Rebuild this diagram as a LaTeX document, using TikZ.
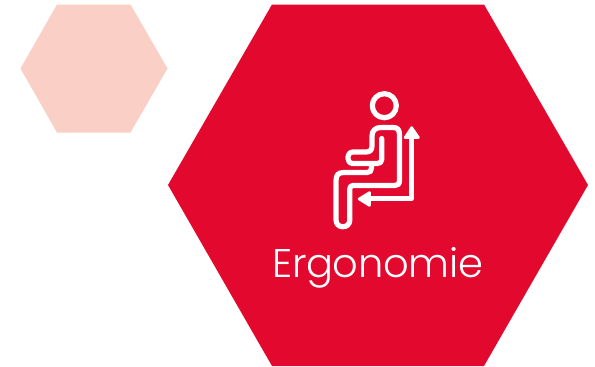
\documentclass[tikz,border=0pt]{standalone}
\usepackage{fontspec}
\newfontfamily\ergofont[UprightFont=* Light,LetterSpace=-0.8]{Poppins}
\definecolor{ergored}{RGB}{226,8,46}
\definecolor{ergopink}{RGB}{250,207,198}
\tikzset{
  iconline/.style={draw=white,line width=5.2pt,line cap=round,line join=round},
  iconhead/.style={fill=white,draw=white,line width=2.5pt,line join=round},
  hexfill/.style={draw=none}
}
\begin{document}
\begin{tikzpicture}[x=1pt,y=-1pt]
\useasboundingbox (0,0) rectangle (595,367);
\fill[white] (0,0) rectangle (595,367);
\fill[hexfill,ergopink] (20.5,68.5) -- (57,4.5) -- (130.5,4.5) -- (167.5,68.5) -- (130.5,132.5) -- (57,132.5) -- cycle;
\fill[hexfill,ergored] (168,185) -- (272,4.5) -- (484,4.5) -- (588,185) -- (484,366) -- (272,366) -- cycle;
% head
\draw[iconline] (384.3,105.7) circle (12);
% body
\draw[iconline] (381.7,138.5) -- (381.7,159.5)
  .. controls (381.7,162.5) and (380,163.5) .. (377,163.5)
  -- (353,163.5)
  .. controls (346,163.5) and (346,152) .. (353,152)
  -- (366,152)
  .. controls (370,152) and (372,150) .. (372,146)
  -- (372,136)
  .. controls (372,130) and (376,127.5) .. (381,127.5)
  -- (393,127.5)
  .. controls (398,127.5) and (399.5,130) .. (399.5,135)
  -- (399.5,180)
  .. controls (399.5,184) and (398,185.5) .. (395,185.5)
  -- (353,185.5)
  .. controls (350.5,185.5) and (349.8,187) .. (349.8,189)
  -- (349.8,220)
  .. controls (349.8,229) and (336,229) .. (336,220)
  -- (336,181)
  .. controls (336,175) and (338,172.5) .. (344,172.5)
  -- (367,172.5)
  .. controls (370,172.5) and (371.5,171) .. (371.5,168)
  -- (371.5,163.5);
% arrows
\draw[iconline] (411.7,135) -- (411.7,198.5) -- (370,198.5);
\fill[iconhead] (411.7,127.5) -- (405,137.5) -- (418.5,137.5) -- cycle;
\fill[iconhead] (359,199) -- (369.5,192.5) -- (369.5,205.5) -- cycle;
\node[anchor=base west,text=white,inner sep=0pt,font=\ergofont\fontsize{40}{48}\selectfont] (label) at (272,277.7) {Ergonomie};
\end{tikzpicture}
\end{document}
